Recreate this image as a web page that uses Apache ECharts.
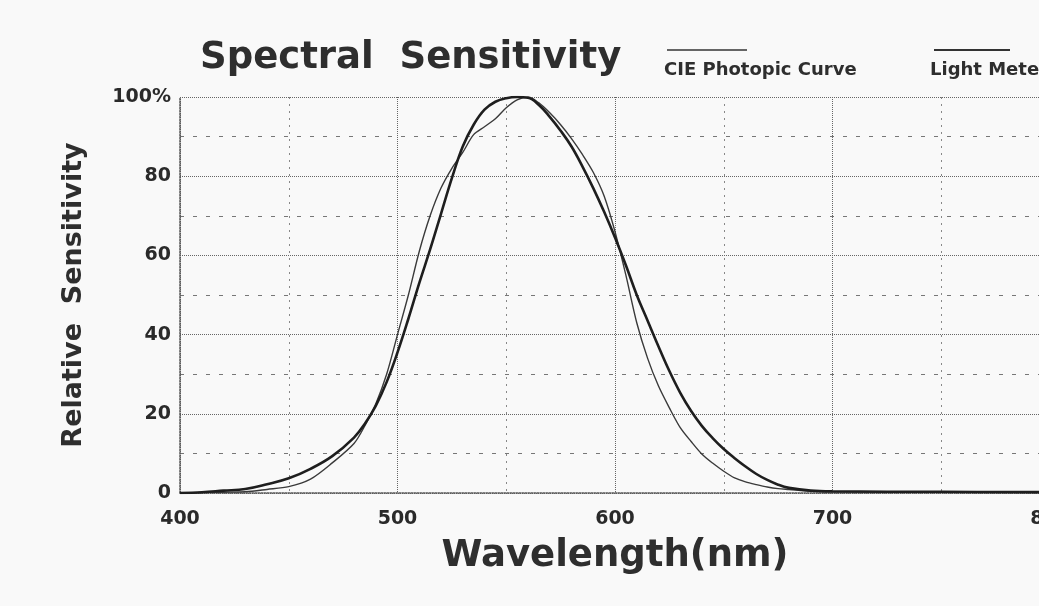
<!DOCTYPE html>
<html>
<head>
<meta charset="utf-8">
<script src="https://cdn.jsdelivr.net/npm/echarts@6/dist/echarts.min.js"></script>
<style>
  html, body { margin: 0; padding: 0; background: #f9f9f9; }
  #chart { width: 1039px; height: 606px; }
</style>
</head>
<body>
<div id="chart"></div>
<script>
// wavelength (nm)
var wavelengths = [400, 410, 420, 430, 440, 450, 460, 470, 480, 485, 490, 495, 500, 505, 510, 515, 520, 525, 530, 535,
  540, 545, 550, 555, 560, 565, 570, 575, 580, 585, 590, 595, 600, 605, 610, 615, 620, 625, 630, 635,
  640, 645, 650, 655, 660, 665, 670, 675, 680, 690, 700, 750, 800];
// relative sensitivity (%)
var ciePhotopic = [0, 0.1, 0.2, 0.3, 0.9, 1.6, 3.5, 7.6, 12.5, 17, 22.5, 30, 40, 50, 61, 70, 77, 82, 86, 90.5,
  92.5, 94.5, 97.3, 99.3, 100, 98.5, 96, 93, 89.5, 85.5, 81, 75, 66, 55, 43, 34, 27, 21.5, 16.5, 13,
  9.8, 7.5, 5.5, 3.8, 2.8, 2.1, 1.5, 1.1, 0.9, 0.5, 0.4, 0.3, 0.3];
var lightMeter = [0, 0.2, 0.6, 1.0, 2.2, 3.7, 6.1, 9.3, 14, 17.5, 22, 28, 35.5, 44, 53, 61.5, 70.5, 79.5, 87.5, 93,
  96.8, 98.8, 99.7, 100, 99.8, 98, 95, 91.5, 87.5, 82.5, 77, 71, 64.5, 57.5, 50, 43.5, 37, 30.8, 25.3, 20.7,
  16.9, 13.8, 11.1, 8.8, 6.7, 4.8, 3.3, 2.1, 1.3, 0.6, 0.4, 0.3, 0.2];
var xTicks = [400, 500, 600, 700, 800];
var yTicks = [0, 20, 40, 60, 80, 100];

function pairs(ys) {
  return wavelengths.map(function (x, i) { return [x, ys[i]]; });
}

var FONT = 'DejaVu Sans';
var chartDom = document.getElementById('chart');
var myChart = echarts.init(chartDom);
var option;

option = {
  backgroundColor: '#f9f9f9',
  animation: false,
  title: {
    text: 'Spectral  Sensitivity',
    left: 195,
    top: 35,
    textStyle: { fontFamily: FONT, fontWeight: 'bold', fontSize: 37, color: '#2e2e2e' }
  },
  graphic: [
    { type: 'line', shape: { x1: 667, y1: 50, x2: 747, y2: 50 }, style: { stroke: '#333', lineWidth: 1.5 } },
    { type: 'text', left: 664, top: 61, style: { text: 'CIE Photopic Curve', font: 'bold 18px "DejaVu Sans"', fill: '#2e2e2e' } },
    { type: 'line', shape: { x1: 934, y1: 50, x2: 1010, y2: 50 }, style: { stroke: '#333', lineWidth: 2 } },
    { type: 'text', left: 930, top: 61, style: { text: 'Light Meter', font: 'bold 18px "DejaVu Sans"', fill: '#2e2e2e' } }
  ],
  grid: {
    left: 180,
    top: 97,
    right: -11,
    bottom: 113,
    containLabel: false,
    outerBoundsMode: 'none'
  },
  xAxis: {
    type: 'value',
    min: xTicks[0],
    max: xTicks[xTicks.length - 1],
    interval: 100,
    name: 'Wavelength(nm)',
    nameLocation: 'middle',
    nameGap: 45,
    nameTextStyle: { fontFamily: FONT, fontWeight: 'bold', fontSize: 37, color: '#2e2e2e' },
    axisLine: { show: true, lineStyle: { color: '#555', width: 1.5, type: 'dotted' } },
    axisTick: { show: false },
    axisLabel: { fontFamily: FONT, fontWeight: 'bold', fontSize: 19, color: '#2a2a2a', margin: 17 },
    splitLine: { show: true, lineStyle: { color: '#666', width: 1, type: 'dotted' } },
    minorTick: { show: false, splitNumber: 2 },
    minorSplitLine: { show: true, lineStyle: { color: '#888', width: 1, type: [2, 5] } }
  },
  yAxis: {
    type: 'value',
    min: yTicks[0],
    max: yTicks[yTicks.length - 1],
    interval: 20,
    name: 'Relative  Sensitivity',
    nameLocation: 'middle',
    nameGap: 93,
    nameTextStyle: { fontFamily: FONT, fontWeight: 'bold', fontSize: 27, color: '#2e2e2e' },
    axisLine: { show: true, lineStyle: { color: '#555', width: 1.5, type: 'dotted' } },
    axisTick: { show: false },
    axisLabel: {
      fontFamily: FONT, fontWeight: 'bold', fontSize: 19, color: '#2a2a2a', margin: 9,
      formatter: function (v) { return v === 100 ? '100%' : String(v); }
    },
    splitLine: { show: true, lineStyle: { color: '#666', width: 1, type: 'dotted' } },
    minorTick: { show: false, splitNumber: 2 },
    minorSplitLine: { show: true, lineStyle: { color: '#777', width: 1, type: [4, 9] } }
  },
  series: [
    {
      name: 'CIE Photopic Curve',
      type: 'line',
      symbol: 'none',
      smooth: 0.3,
      lineStyle: { color: '#3a3a3a', width: 1.4 },
      data: pairs(ciePhotopic)
    },
    {
      name: 'Light Meter',
      type: 'line',
      symbol: 'none',
      smooth: 0.4,
      lineStyle: { color: '#1e1e1e', width: 2.6 },
      data: pairs(lightMeter)
    }
  ]
};

myChart.setOption(option);

window.onresize = () => {
  myChart.resize();
}
</script>
</body>
</html>
